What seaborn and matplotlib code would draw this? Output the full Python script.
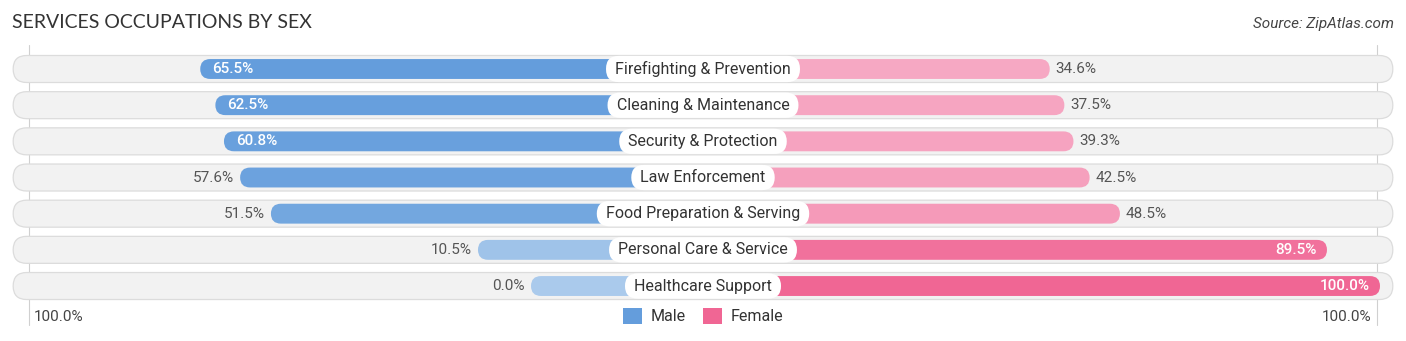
import numpy as np
import pandas as pd
import matplotlib
matplotlib.use("Agg")
import matplotlib.pyplot as plt
from matplotlib.patches import FancyBboxPatch, Patch
import seaborn as sns

categories = ["Firefighting & Prevention", "Cleaning & Maintenance", "Security & Protection",
              "Law Enforcement", "Food Preparation & Serving", "Personal Care & Service",
              "Healthcare Support"]
male = [65.5, 62.5, 60.8, 57.6, 51.5, 10.5, 0.0]
female = [34.6, 37.5, 39.3, 42.5, 48.5, 89.5, 100.0]
title = "SERVICES OCCUPATIONS BY SEX"
source = "Source: ZipAtlas.com"
axis_label = "100.0%"

W, H = 1406, 341
PX = 5.05          # pixels per percent unit
OFF = 172 / PX     # offset for central label area
ROW = 36.17        # pixels per row
XL = 703 / PX
Y0 = 69 / ROW
ylim = ((H - 69) / ROW, -Y0)
asp = (1 / ROW) / (1 / PX)

male_strong, male_light = np.array([100, 157, 220]) / 255, np.array([170, 202, 236]) / 255
fem_strong, fem_light = np.array([240, 102, 148]) / 255, np.array([246, 168, 195]) / 255

def mix(v, vals, light, strong):
    t = (v - min(vals)) / (max(vals) - min(vals))
    return tuple(light + (strong - light) * t)

sns.set_theme(style="white")
plt.rcParams['font.family'] = ['Roboto', 'DejaVu Sans']

df = pd.DataFrame({
    "Occupation": categories * 2,
    "Sex": ["Male"] * len(categories) + ["Female"] * len(categories),
    "Value": male + female,
})
df["Signed"] = np.where(df["Sex"] == "Male", -(df["Value"] + OFF), df["Value"] + OFF)

fig = plt.figure(figsize=(W / 100, H / 100), dpi=100)
ax = fig.add_axes([0, 0, 1, 1])
sns.barplot(data=df, y="Occupation", x="Signed", hue="Sex", order=categories,
            hue_order=["Male", "Female"], dodge=False, orient="h", width=0.55,
            palette={"Male": tuple(male_strong), "Female": tuple(fem_strong)},
            legend=False, ax=ax, errorbar=None)
ax.set_xlim(-XL, XL)
ax.set_ylim(*ylim)
ax.axis("off")

# tracks
track_h = 27 / ROW
for i in range(len(categories)):
    tr = FancyBboxPatch((-136.6, i - track_h / 2), 273.2, track_h,
                        boxstyle=f"round,pad=0,rounding_size={13.5 / PX}",
                        mutation_aspect=asp, fc="#f2f2f2", ec="#dcdcdc", lw=0.9, zorder=0.5)
    ax.add_patch(tr)

# replace bars with rounded ones
for ci, cont in enumerate(ax.containers):
    vals = male if ci == 0 else female
    for i, bar in enumerate(cont):
        x, y, w, h = bar.get_x(), bar.get_y(), bar.get_width(), bar.get_height()
        if w < 0:
            x, w = x + w, -w
        bar.set_visible(False)
        col = mix(vals[i], vals, male_light, male_strong) if ci == 0 else mix(vals[i], vals, fem_light, fem_strong)
        p = FancyBboxPatch((x, y), w, h, boxstyle=f"round,pad=0,rounding_size={10 / PX}",
                           mutation_aspect=asp, fc=col, ec="none", zorder=2)
        ax.add_patch(p)

# labels
for i, cat in enumerate(categories):
    ax.text(0, i, f" {cat} ", ha="center", va="center", fontsize=11.5, color="#333333", zorder=4,
            bbox=dict(boxstyle="round,pad=0.32,rounding_size=0.8", fc="white", ec="none"))
    m, f = male[i], female[i]
    mend = -(m + OFF)
    if m >= 60:
        ax.text(mend + 12 / PX, i, f"{m:.1f}%", ha="left", va="center", fontsize=11,
                color="white", fontweight="medium", zorder=4)
    else:
        ax.text(mend - 6 / PX, i, f"{m:.1f}%", ha="right", va="center", fontsize=11,
                color="#555555", zorder=4)
    fend = f + OFF
    if f >= 60:
        ax.text(fend - 10 / PX, i, f"{f:.1f}%", ha="right", va="center", fontsize=11,
                color="white", fontweight="medium", zorder=4)
    else:
        ax.text(fend + 6 / PX, i, f"{f:.1f}%", ha="left", va="center", fontsize=11,
                color="#555555", zorder=4)

# vertical reference lines at +-100%
for s in (-1, 1):
    ax.plot([s * (100 + OFF - 0.6)] * 2, [(45 - 69) / ROW, (325 - 69) / ROW], color="#d0d0d0",
            lw=0.8, zorder=0.3)

yb = (317 - 69) / ROW
ax.text(-(100 + OFF) + 8 / PX, yb, axis_label, ha="left", va="center", fontsize=11, color="#444444")
ax.text((100 + OFF) - 9 / PX, yb, axis_label, ha="right", va="center", fontsize=11, color="#444444")

fig.text(12 / W, 1 - 22 / H, title, ha="left", va="center", fontsize=14, color="#333333",
         family=["Lato", "DejaVu Sans"])
fig.text(1394 / W, 1 - 24 / H, source, ha="right", va="center", fontsize=11, color="#444444",
         style="italic")

handles = [Patch(fc=tuple(male_strong), ec="none"), Patch(fc=tuple(fem_strong), ec="none")]
fig.legend(handles, ["Male", "Female"], loc="center", bbox_to_anchor=(0.5, 1 - 316 / H), ncol=2,
           frameon=False, fontsize=11.5, handlelength=1.2, handleheight=1.2, columnspacing=1.1,
           handletextpad=0.5, labelcolor="#333333")

fig.savefig("out.png", dpi=100)
